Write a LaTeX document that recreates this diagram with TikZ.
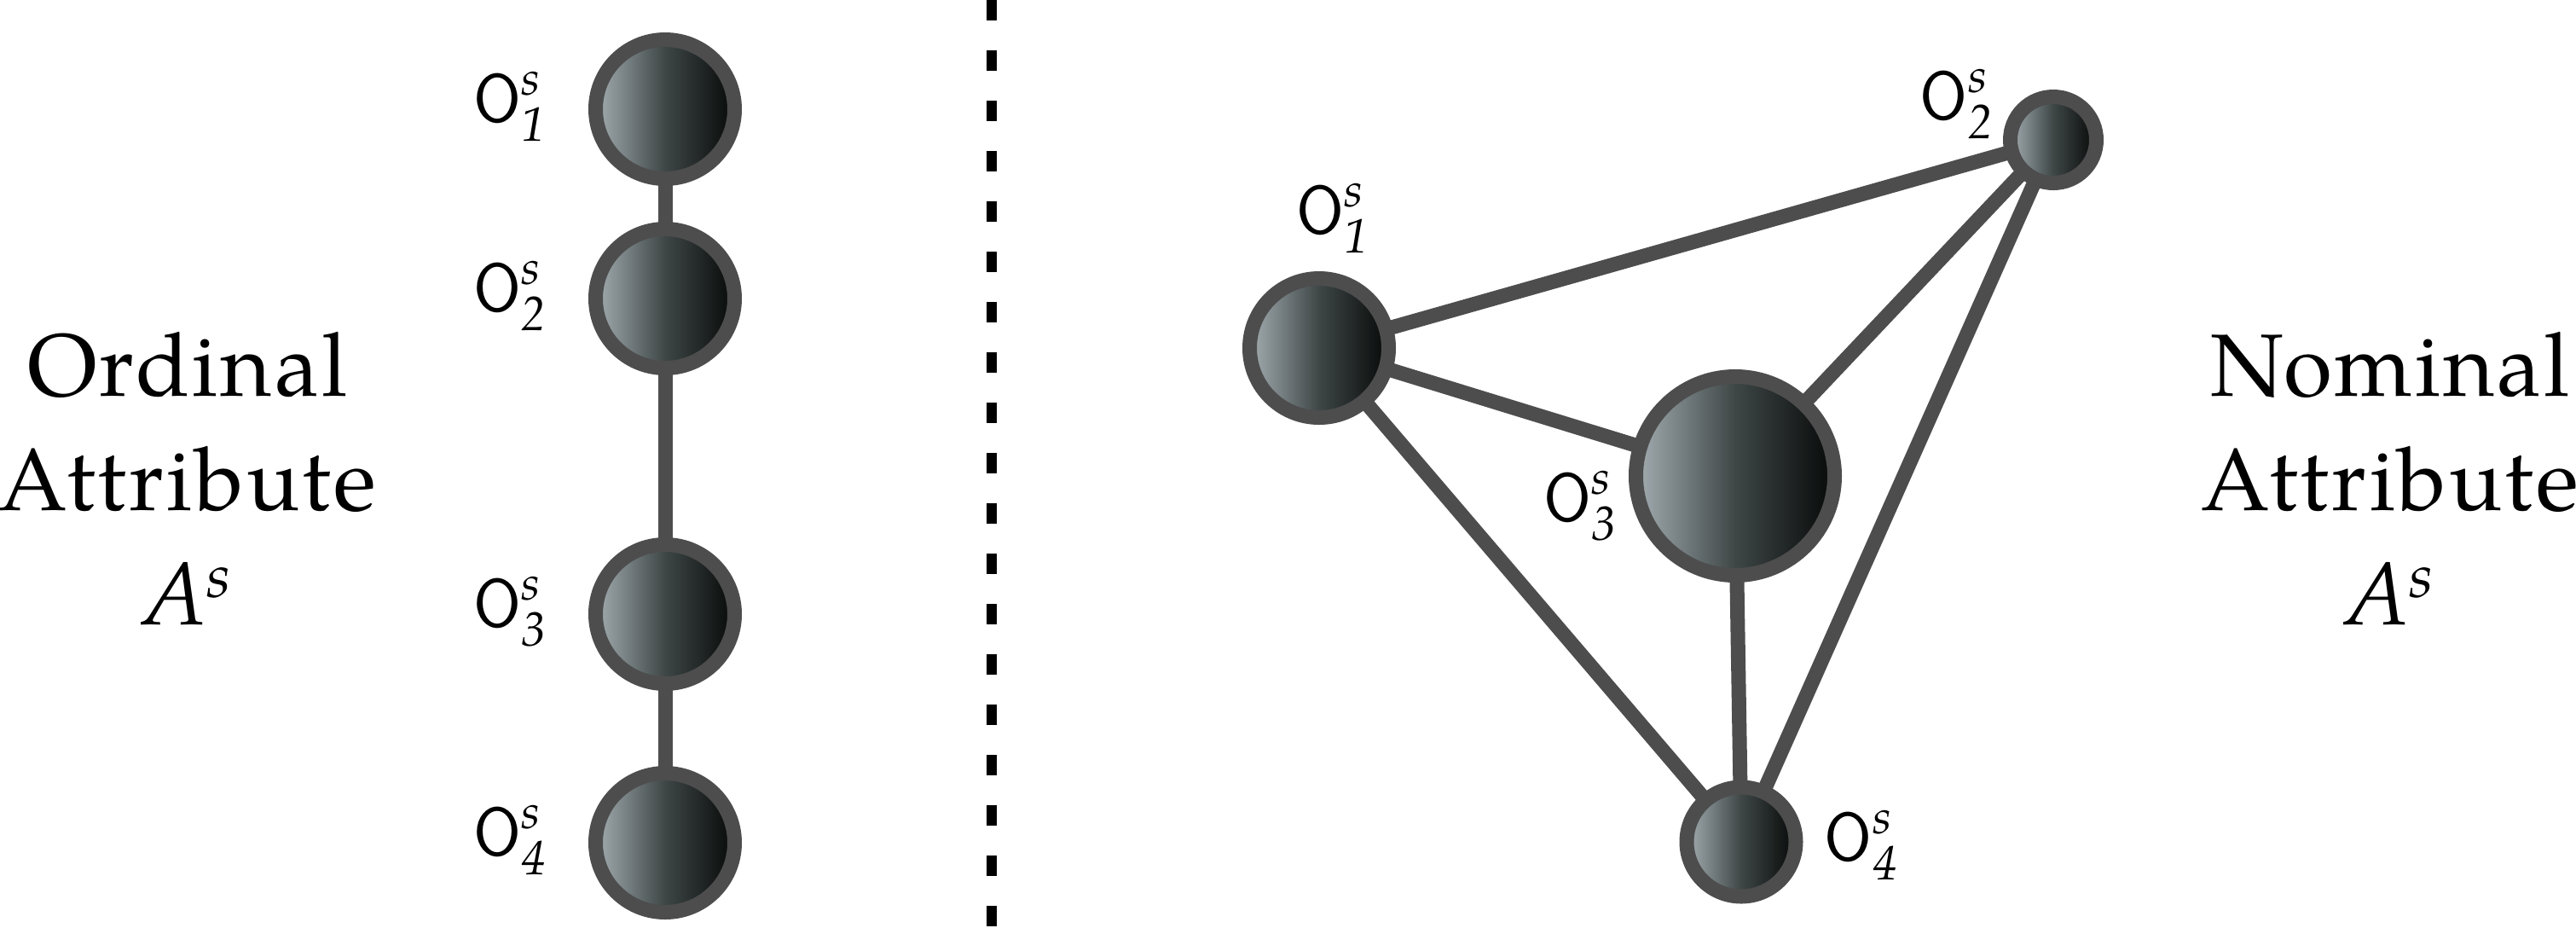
\documentclass[tikz,border=0pt]{standalone}
\usepackage{fontspec}
\setmainfont{TeX Gyre Pagella}
\newfontfamily\titlefont[LetterSpace=3]{TeX Gyre Pagella}
\usetikzlibrary{backgrounds}
\definecolor{edgegray}{HTML}{4D4D4D}
\definecolor{ballL}{HTML}{A4AEB2}
\definecolor{ballM}{HTML}{3E4646}
\definecolor{ballR}{HTML}{060908}

\begin{document}
\begin{tikzpicture}[
  ball/.style={circle, draw=edgegray, line width=0.17cm, inner sep=0pt,
    left color=ballL, right color=ballR, middle color=ballM},
  link/.style={draw=edgegray, line width=0.17cm},
  olabel/.style={inner sep=0pt, font=\fontsize{23}{27}\selectfont},
  title/.style={align=center, inner sep=0pt, font=\titlefont\fontsize{29.5}{38}\selectfont},
]
  \useasboundingbox (0,0) rectangle (30.21,-10.87);

  \foreach \i/\y in {1/1.28, 2/3.50, 3/7.20, 4/9.88} {
    \node[ball, minimum size=1.63cm] (a\i) at (7.80,-\y) {};
    \node[olabel, anchor=east] (la\i) at (6.42,-\y+0.03) {$\mathsf{O}^{\mathit{s}}_{\mathit{\i}}$};
  }

  \node[ball, minimum size=1.63cm] (b1) at (15.47,-4.08) {};
  \node[ball, minimum size=1.01cm] (b2) at (24.08,-1.64) {};
  \node[ball, minimum size=2.33cm] (b3) at (20.35,-5.58) {};
  \node[ball, minimum size=1.28cm] (b4) at (20.42,-9.87) {};
  \node[olabel] (lb1) at (15.64,-2.56) {$\mathsf{O}^{\mathit{s}}_{\mathit{1}}$};
  \node[olabel] (lb2) at (22.95,-1.22) {$\mathsf{O}^{\mathit{s}}_{\mathit{2}}$};
  \node[olabel] (lb3) at (18.54,-5.93) {$\mathsf{O}^{\mathit{s}}_{\mathit{3}}$};
  \node[olabel] (lb4) at (21.83,-9.91) {$\mathsf{O}^{\mathit{s}}_{\mathit{4}}$};

  \begin{scope}[on background layer]
    \draw[link] (a1.center) -- (a2.center) -- (a3.center) -- (a4.center);
    % every pair is linked, no order
    \draw[link] (b1.center) -- (b2.center);
    \draw[link] (b1.center) -- (b3.center);
    \draw[link] (b1.center) -- (b4.center);
    \draw[link] (b2.center) -- (b3.center);
    \draw[link] (b2.center) -- (b4.center);
    \draw[link] (b3.center) -- (b4.center);
  \end{scope}

  \coordinate (sep top) at (11.63,0);
  \coordinate (sep bot) at (11.63,-10.87);
  \draw[black, line width=0.12cm, dash pattern=on 0.24cm off 0.35cm] (sep top) -- (sep bot);

  \node[title] (ord) at (2.20,-5.61) {Ordinal\\Attribute\\$\mathit{A}^{\mathit{s}}$};
  \node[title] (nom) at (28.03,-5.61) {Nominal\\Attribute\\$\mathit{A}^{\mathit{s}}$};
\end{tikzpicture}
\end{document}
